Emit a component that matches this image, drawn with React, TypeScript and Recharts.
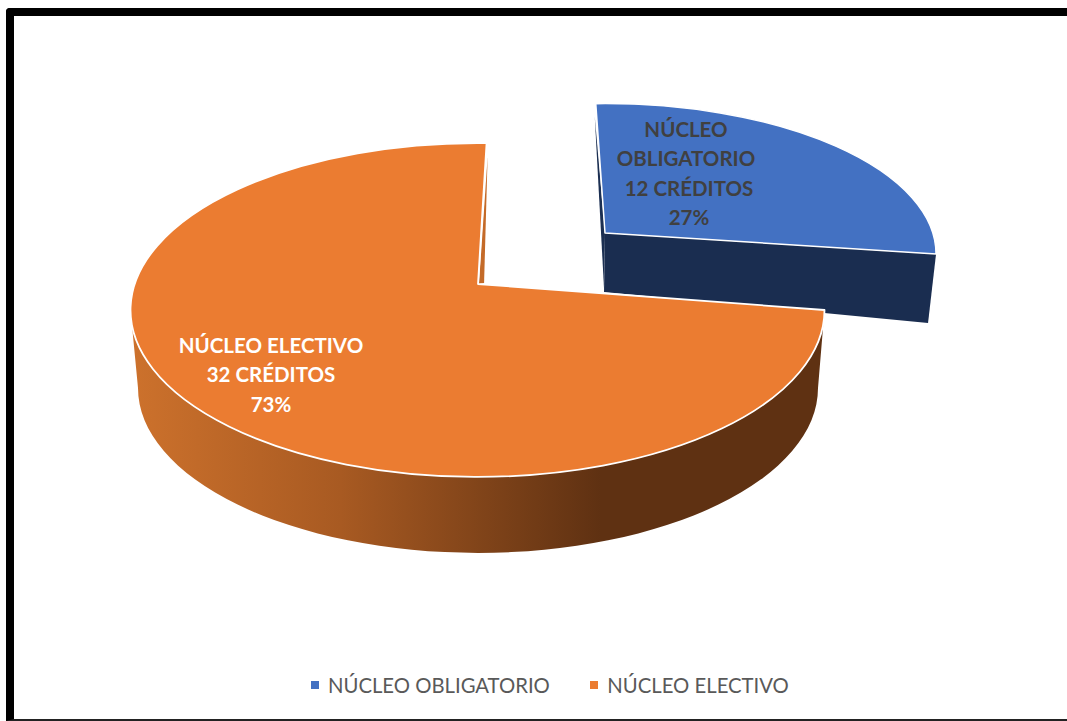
import React from "react";
import { PieChart, Pie, Cell, Legend } from "recharts";

// ---------- data ----------
const categories = ["NÚCLEO OBLIGATORIO", "NÚCLEO ELECTIVO"];
const credits = [12, 32];
const labelHeadLines = [["NÚCLEO", "OBLIGATORIO"], ["NÚCLEO ELECTIVO"]];
const creditLabels = ["12 CRÉDITOS", "32 CRÉDITOS"];

// ---------- styles ----------
const sliceColors = ["#4371C2", "#EB7C31"];
const FONT = "Lato, Carlito, sans-serif";
const W = 1067;
const H = 721;
const CX = 477.5;
const CY = 310;
const R = 347;
const START = 91.6;

const tableRows = categories.map((name, i) => ({ name, value: credits[i] }));
const total = credits.reduce((a, b) => a + b, 0);
const splitAngle = START - (credits[0] / total) * 360;

// 3D projection of each slice (perspective tilt / explosion)
const views = [
  { dx: 127.5, dy: -56, sx: 0.954, sy: 0.4335, apexDx: 0, apexDy: -21 },
  { dx: 0, dy: 0, sx: 1, sy: 0.481, apexDx: 0.5, apexDy: -26 },
];

// perspective foreshortening of the sweep
const warp = (a: number) =>
  a >= splitAngle
    ? START + ((a - START) * START) / (START - splitAngle)
    : 1 + ((a - splitAngle) * 272.5) / (splitAngle - START + 360);

const pt = (x0: number, y0: number, rx: number, ry: number, deg: number) => {
  const t = (deg * Math.PI) / 180;
  return [x0 + rx * Math.cos(t), y0 - ry * Math.sin(t)];
};

function Slice3D(props: any) {
  const { cx, cy, outerRadius, startAngle, endAngle, fill } = props;
  const isBack = startAngle >= START - 1e-6;
  const v = isBack ? views[0] : views[1];
  const x0 = cx + v.dx;
  const y0 = cy + v.dy;
  const rx = outerRadius * v.sx;
  const ry = outerRadius * v.sy;
  const a0 = warp(startAngle);
  const a1 = warp(endAngle);
  const [sx, sy] = pt(x0, y0, rx, ry, a0);
  const [ex, ey] = pt(x0, y0, rx, ry, a1);
  const ax = x0 + v.apexDx;
  const ay = y0 + v.apexDy;
  const large = a0 - a1 > 180 ? 1 : 0;
  const top = `M${ax},${ay} L${sx},${sy} A${rx},${ry} 0 ${large} 1 ${ex},${ey} Z`;

  if (isBack) {
    const wall = `M${ax},${ay} L${ex},${ey} L${ex - 8},${ey + 69} L${ax - 1},${ay + 59} Z`;
    const inner = `M${sx - 1},${sy + 13} L${ax},${ay} L${ax - 1},${ay + 55} Z`;
    return (
      <g>
        <path d={inner} fill="#1B2F52" />
        <path d={wall} fill="#1A2D50" />
        <path d={top} fill={fill} stroke="#fff" strokeWidth={1.5} strokeLinejoin="round" />
      </g>
    );
  }

  // front slice: curved outer wall, with bottom rim of the extruded ellipse
  const bx0 = x0 + 0.5;
  const by0 = y0 + 78;
  const brx = rx - 7;
  const bry = ry - 2;
  const leftDeg = -180;
  const [tlx, tly] = pt(x0, y0, rx, ry, leftDeg);
  const [blx, bly] = pt(bx0, by0, brx, bry, leftDeg);
  const [brEx, brEy] = pt(bx0, by0, brx, bry, a0);
  const wall = `M${sx},${sy} A${rx},${ry} 0 1 1 ${tlx},${tly} L${blx},${bly} A${brx},${bry} 0 1 0 ${brEx},${brEy} Z`;
  const inner = `M${ex + 1},${ey + 14} L${ex - 2.5},${ay - 1} L${ax + 1},${ay} Z`;
  return (
    <g>
      <defs>
        <linearGradient id="frontWall" gradientUnits="userSpaceOnUse" x1="135" y1="0" x2="820" y2="0">
          <stop offset="0" stopColor="#CC712C" />
          <stop offset="0.3" stopColor="#A85A22" />
          <stop offset="0.68" stopColor="#5F3112" />
          <stop offset="1" stopColor="#5F3112" />
        </linearGradient>
      </defs>
      <path d={wall} fill="url(#frontWall)" />
      <path d={inner} fill="#C46A28" />
      <path d={top} fill={fill} stroke="#fff" strokeWidth={1.8} strokeLinejoin="round" />
    </g>
  );
}

// centre x and first baseline of each label; per-line nudges
const labelAnchors = [
  { xs: [686, 686, 689, 689], y: 136.7 },
  { xs: [271, 271, 271], y: 352.7 },
];
const LINE_H = 29.5;

function SliceLabel(props: any) {
  const { index, percent } = props;
  const lines = [...labelHeadLines[index], creditLabels[index], `${Math.round(percent * 100)}%`];
  const a = labelAnchors[index];
  return (
    <text
      fontFamily={FONT}
      fontWeight={700}
      fontSize={20.5}
      fill={index === 0 ? "#404040" : "#FFFFFF"}
      textAnchor="middle"
    >
      {lines.map((l, i) => (
        <tspan key={i} x={a.xs[i]} y={a.y + i * LINE_H}>
          {l}
        </tspan>
      ))}
    </text>
  );
}

function LegendRow(props: any) {
  const items = props.payload || [];
  return (
    <div style={{ display: "flex", alignItems: "center", fontFamily: FONT, fontSize: 20.3, color: "#595959", lineHeight: "26px" }}>
      {items.map((it: any, i: number) => (
        <div key={i} style={{ display: "flex", alignItems: "center", marginRight: i === 0 ? 40.5 : 0 }}>
          <span style={{ width: 8, height: 8, background: it.color, display: "inline-block", marginRight: 9 }} />
          <span>{it.value}</span>
        </div>
      ))}
    </div>
  );
}

export default function App() {
  return (
    <div style={{ position: "fixed", left: 0, top: 0, width: W, height: H, background: "#fff", overflow: "hidden" }}>
      <PieChart width={W} height={H} margin={{ top: 0, right: 0, bottom: 0, left: 0 }}>
        <Pie
          data={tableRows}
          dataKey="value"
          nameKey="name"
          cx={CX}
          cy={CY}
          outerRadius={R}
          innerRadius={0}
          startAngle={START}
          endAngle={START - 360}
          paddingAngle={0}
          isAnimationActive={false}
          labelLine={false}
          label={SliceLabel}
          shape={Slice3D}
          activeShape={Slice3D}
          inactiveShape={Slice3D}
        >
          {tableRows.map((r, i) => (
            <Cell key={r.name} fill={sliceColors[i]} />
          ))}
        </Pie>
        <Legend
          content={LegendRow}
          itemSorter={null}
          wrapperStyle={{ position: "absolute", left: 311, top: 672, width: 560, bottom: "auto" }}
        />
      </PieChart>
      <div
        style={{
          position: "absolute",
          left: 6,
          top: 8,
          width: W,
          height: 713,
          boxSizing: "border-box",
          borderLeft: "8px solid #000",
          borderTop: "8px solid #000",
          borderBottom: "2px solid #222",
          borderTopLeftRadius: 4,
          pointerEvents: "none",
        }}
      />
    </div>
  );
}
